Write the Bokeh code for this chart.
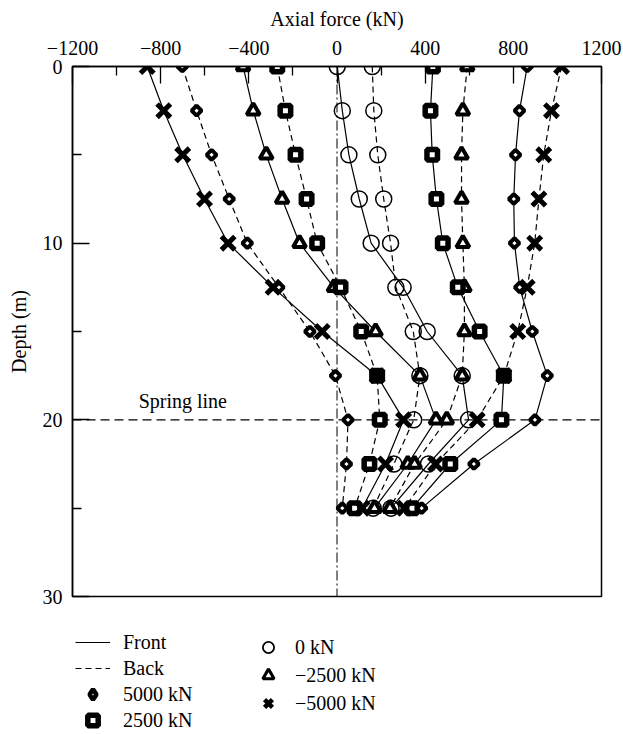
import math
from bokeh.plotting import figure
from bokeh.layouts import column
from bokeh.models import Range1d, FixedTicker, Span, Label, Legend, LegendItem
from bokeh.embed import file_html
from bokeh.resources import INLINE

# ---------------- data ----------------
depth = [0, 2.5, 5, 7.5, 10, 12.5, 15, 17.5, 20, 22.5, 25]

front_5000 = [863, 828, 810, 802, 805, 829, 886, 954, 898, 621, 384]
back_5000 = [-702, -637, -569, -489, -407, -264, -123, -7, 50, 43, 24]
front_2500 = [435, 424, 432, 451, 480, 548, 647, 757, 746, 514, 340]
back_2500 = [-271, -234, -188, -138, -90, 16, 110, 182, 194, 147, 80]
front_0 = [1, 24, 54, 101, 155, 300, 409, 568, 597, 415, 245]
back_0 = [160, 167, 185, 212, 243, 267, 346, 376, 348, 258, 164]
front_m2500 = [-426, -380, -321, -249, -170, -14, 175, 376, 449, 321, 170]
back_m2500 = [591, 571, 565, 565, 571, 578, 578, 568, 498, 352, 240]
front_m5000 = [-861, -786, -700, -601, -494, -290, -67, 182, 302, 220, 114]
back_m5000 = [1019, 973, 938, 916, 897, 863, 820, 757, 636, 447, 306]

x_ticks = [-1200, -800, -400, 0, 400, 800, 1200]
x_minor = [-1000, -600, -200, 200, 600, 1000]
x_labels = ["\u22121200", "\u2212800", "\u2212400", "0", "400", "800", "1200"]
y_ticks = [0, 10, 20, 30]
y_minor = [5, 15, 25]
y_labels = ["0", "10", "20", "30"]
spring_depth = 20

legend_labels = ["Front", "Back", "5000 kN", "2500 kN", "0 kN", "\u22122500 kN", "\u22125000 kN"]

FONT = "Liberation Serif"

# marker styles
DIAMOND = dict(marker="square", angle=math.pi / 4, size=7, line_width=4,
               line_color="black", fill_color="white")
TRI = dict(marker="triangle", size=13, line_width=4, line_color="black", fill_color="white")
SQ = dict(marker="square", size=10.5, line_width=5.5, line_color="black", fill_color="white")
CIRC = dict(marker="circle", size=16, line_width=1.5, line_color="black", fill_color=None)
XM = dict(marker="x", size=19, line_width=5, line_color="black")
FRONT = dict(line_color="black", line_width=1.2)
BACK = dict(line_color="black", line_width=1.2, line_dash="6 4")

p = figure(width=623, height=612, output_backend="svg", toolbar_location=None,
           x_range=Range1d(-1200, 1200), y_range=Range1d(30, 0),
           x_axis_location="above",
           min_border_left=72, min_border_right=22, min_border_top=66, min_border_bottom=16)
p.grid.visible = False
p.outline_line_color = "black"
p.outline_line_width = 1.5
p.background_fill_color = "white"
p.border_fill_color = "white"

xa = p.xaxis[0]
xa.ticker = FixedTicker(ticks=x_ticks, minor_ticks=x_minor)
xa.major_label_overrides = {t: l for t, l in zip(x_ticks, x_labels)}
ya = p.yaxis[0]
ya.ticker = FixedTicker(ticks=y_ticks, minor_ticks=y_minor)
ya.major_label_overrides = {t: l for t, l in zip(y_ticks, y_labels)}
for ax in (xa, ya):
    ax.major_tick_in = 17
    ax.major_tick_out = 0
    ax.minor_tick_in = 9
    ax.minor_tick_out = 0
    ax.major_tick_line_width = 1.3
    ax.minor_tick_line_width = 1.3
    ax.axis_line_width = 1.5
    ax.major_label_text_font = FONT
    ax.major_label_text_font_size = "20px"
    ax.major_label_text_color = "black"
    ax.axis_label_text_font = FONT
    ax.axis_label_text_font_size = "20px"
    ax.axis_label_text_font_style = "normal"
    ax.axis_label_text_color = "black"
xa.axis_label = "Axial force (kN)"
ya.axis_label = "Depth (m)"
xa.major_label_standoff = 12
xa.axis_label_standoff = 8
ya.major_label_standoff = 10
ya.axis_label_standoff = 10

# reference lines
p.add_layout(Span(location=spring_depth, dimension="width", line_color="black",
                  line_width=1.2, line_dash="9 5", level="underlay"))
p.add_layout(Span(location=0, dimension="height", line_color="black",
                  line_width=1.0, line_dash="10 3 2 3", level="underlay"))
p.add_layout(Label(x=-900, y=spring_depth, text="Spring line", text_font=FONT,
                   text_font_size="20px", text_baseline="bottom", y_offset=8,
                   text_color="black"))

series = [
    (front_5000, back_5000),
    (front_2500, back_2500),
    (front_0, back_0),
    (front_m2500, back_m2500),
    (front_m5000, back_m5000),
]
for fr, bk in series:
    p.line(fr, depth, **FRONT)
    p.line(bk, depth, **BACK)


def both(fr, bk):
    return fr + bk, depth + depth


xd, yd = both(front_5000, back_5000)
p.scatter(xd, yd, **DIAMOND)
xt, yt = both(front_m2500, back_m2500)
p.scatter(xt, yt, **TRI)
xs, ys = both(front_2500, back_2500)
p.scatter(xs, ys, **SQ)
xc, yc = both(front_0, back_0)
p.scatter(xc, yc, **CIRC)
xx, yx = both(front_m5000, back_m5000)
p.scatter(xx, yx, **XM)

# ---------------- legend figure ----------------
# Same series drawn again, but the view range holds none of them, so only the legend shows.
p2 = figure(width=623, height=122, output_backend="svg", toolbar_location=None,
            x_range=Range1d(5000, 6000), y_range=Range1d(5000, 6000),
            x_axis_location=None, y_axis_location=None, min_border=0,
            min_border_left=72, min_border_right=22, min_border_top=0, min_border_bottom=0)
p2.grid.visible = False
p2.outline_line_color = None
p2.background_fill_color = "white"
p2.border_fill_color = "white"

l_front = p2.line(front_0, depth, **FRONT)
l_back = p2.line(back_0, depth, **BACK)
l_diam = p2.scatter(xd, yd, marker="diamond", line_width=4.5, line_color="black", fill_color="white")
l_sq = p2.scatter(xs, ys, **SQ)
l_circ = p2.scatter(xc, yc, marker="circle", line_width=1.8, line_color="black", fill_color=None)
l_tri = p2.scatter(xt, yt, marker="triangle", line_width=3.2, line_color="black", fill_color="white")
l_x = p2.scatter(xx, yx, marker="x", line_width=4.5, line_color="black")

common = dict(border_line_color=None, background_fill_alpha=0, padding=0, margin=0,
              spacing=0, label_text_font=FONT, label_text_font_size="20px",
              label_text_color="black")
leg1 = Legend(items=[LegendItem(label=legend_labels[i], renderers=[r])
                     for i, r in enumerate([l_front, l_back, l_diam, l_sq])],
              location=(3, 1), glyph_width=35, glyph_height=26, label_height=26,
              label_standoff=13, **common)
leg2 = Legend(items=[LegendItem(label=legend_labels[4 + i], renderers=[r])
                     for i, r in enumerate([l_circ, l_tri, l_x])],
              location=(177, 17), glyph_width=38, glyph_height=28, label_height=28,
              label_standoff=8, **common)
p2.add_layout(leg1)
p2.add_layout(leg2)

open("out.html", "w").write(file_html(column(p, p2, spacing=0), INLINE))
